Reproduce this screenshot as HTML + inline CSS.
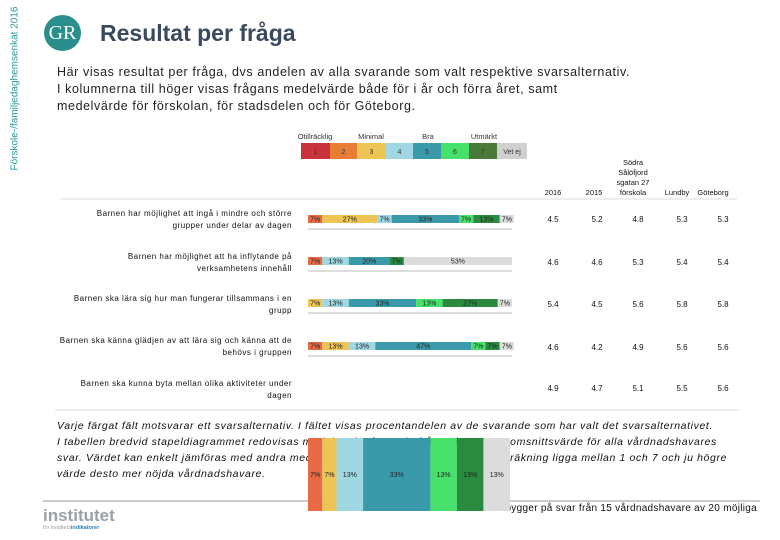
<!DOCTYPE html>
<html><head><meta charset="utf-8"><style>
body{margin:0;width:780px;height:540px;background:#fff;position:relative;overflow:hidden;font-family:"Liberation Sans",sans-serif}
.abs{position:absolute}
.intro{left:57px;top:64px;font-size:12.5px;line-height:17px;color:#222;letter-spacing:0.6px}
.q{position:absolute;right:488px;width:300px;text-align:right;font-size:8px;line-height:12px;color:#111;letter-spacing:0.5px;white-space:nowrap}
.note{left:57px;top:418px;font-size:10.5px;line-height:16px;font-style:italic;color:#111;letter-spacing:0.62px;white-space:nowrap}
#chart{z-index:2}
</style></head><body>
<div class="abs" style="left:-70px;top:80px;width:170px;transform:rotate(-90deg);font-size:10px;color:#2a9a9a;white-space:nowrap">Förskole-/familjedaghemsenkät 2016</div>
<div class="abs" style="left:44px;top:15px;width:37px;height:36px;border-radius:50%;background:#2a8f8c;color:#fff;font-family:'Liberation Serif',serif;font-size:20px;line-height:36px;text-align:center">GR</div>
<div class="abs" style="left:100px;top:20px;font-size:23px;font-weight:bold;color:#3a4a5e">Resultat per fråga</div>
<div class="abs intro">Här visas resultat per fråga, dvs andelen av alla svarande som valt respektive svarsalternativ.<br>I kolumnerna till höger visas frågans medelvärde både för i år och förra året, samt<br>medelvärde för förskolan, för stadsdelen och för Göteborg.</div>

<div class="q" style="top:208px">Barnen har möjlighet att ingå i mindre och större<br>grupper under delar av dagen</div>
<div class="q" style="top:251px">Barnen har möjlighet att ha inflytande på<br>verksamhetens innehåll</div>
<div class="q" style="top:293px">Barnen ska lära sig hur man fungerar tillsammans i en<br>grupp</div>
<div class="q" style="top:335px">Barnen ska känna glädjen av att lära sig och känna att de<br>behövs i gruppen</div>
<div class="q" style="top:378px">Barnen ska kunna byta mellan olika aktiviteter under<br>dagen</div>

<div class="abs note">Varje färgat fält motsvarar ett svarsalternativ. I fältet visas procentandelen av de svarande som har valt det svarsalternativet.<br>I tabellen bredvid stapeldiagrammet redovisas medelvärdet för varje fråga, dvs ett genomsnittsvärde för alla vårdnadshavares<br>svar. Värdet kan enkelt jämföras med andra medelvärden. Medelvärdet kan i denna beräkning ligga mellan 1 och 7 och ju högre<br>värde desto mer nöjda vårdnadshavare.</div>
<div class="abs" style="right:23px;top:503px;font-size:10px;color:#111;letter-spacing:0.3px">och bygger på svar från 15 vårdnadshavare av 20 möjliga</div>
<div class="abs" style="left:43px;top:508px;font-size:17px;font-weight:bold;color:#9aa0a6;line-height:16px">institutet<div style="font-size:5.5px;font-weight:normal;line-height:8px">för kvalitets<span style="color:#2a7fbf;font-weight:bold">indikatorer</span></div></div>

<svg class="abs" style="left:0;top:0" width="780" height="540" id="chart"></svg>

<script>
const cats=["2","3","4","5","6","7","Vet ej"];
const row1=[7,27,7,33,7,13,7];
const row2=[7,0,13,20,0,7,53];
const row3=[0,7,13,33,13,27,7];
const row4=[7,13,13,47,7,7,7];
const row5=[7,7,13,33,13,13,13];
const rows=[row1,row2,row3,row4,row5];
const means2016=[4.5,4.6,5.4,4.6,4.9];
const means2015=[5.2,4.6,4.5,4.2,4.7];
const meansSchool=[4.8,5.3,5.6,4.9,5.1];
const meansLundby=[5.3,5.4,5.8,5.6,5.5];
const meansGbg=[5.3,5.4,5.8,5.6,5.6];
const legendLabels=["1","2","3","4","5","6","7","Vet ej"];
const colors=["#e86a45","#eec455","#9fd8e2","#3a9aaa","#46e06a","#2a8a40","#dcdcdc"];
const legendColors=["#c8333b","#e87d35","#eec455","#9fd8e2","#3a9aaa","#46e06a","#4a7a3a","#d0d0d0"];
const svg=document.getElementById('chart');const NS="http://www.w3.org/2000/svg";
function el(t,a,p){const e=document.createElementNS(NS,t);for(const k in a)e.setAttribute(k,a[k]);(p||svg).appendChild(e);return e;}
const x0=308,x1=512;
function xs(v){return x0+v*(x1-x0)/100;}
const rowY=[215,257,299,342,438];const rowH=[8,8,8,8,73];
let l=el('line',{x1:60,y1:199,x2:737,y2:199,stroke:'#ddd'});
l=el('line',{x1:55,y1:410,x2:740,y2:410,stroke:'#ddd'});
l=el('line',{x1:43,y1:501,x2:760,y2:501,stroke:'#999'});
const lx=[301,330,357,386,413,441,469,497,527];
legendLabels.forEach((s,i)=>{const r=el('rect',{x:lx[i],y:143,width:lx[i+1]-lx[i],height:16,fill:legendColors[i]});


const t=el('text',{x:(lx[i]+lx[i+1])/2,y:154,'font-size':7,'text-anchor':'middle',fill:'#333'});t.textContent=s;

});
[["Otillräcklig",315],["Minimal",371],["Bra",428],["Utmärkt",484]].forEach(a=>{const t=el('text',{x:a[1],y:139,'font-size':7.5,'text-anchor':'middle',fill:'#333'});t.textContent=a[0];

});
rows.forEach((r,ri)=>{if(ri<4){const g=el('rect',{x:x0,y:rowY[ri]+13,width:x1-x0,height:2,fill:'#ddd'});

}
let c=0;r.forEach((v,ci)=>{if(v<=0)return;const b=el('rect',{x:xs(c),y:rowY[ri],width:xs(c+v)-xs(c),height:rowH[ri],fill:colors[ci]});


const t=el('text',{x:(xs(c)+xs(c+v))/2,y:rowY[ri]+rowH[ri]/2+2.5,'font-size':7,'text-anchor':'middle',fill:'#222'});t.textContent=v+'%';

c+=v;});});
const colX=[553,597,638,682,723];const cols=[means2016,means2015,meansSchool,meansLundby,meansGbg];
const valY=[222,265,307,350,391];
cols.forEach((arr,ci)=>arr.forEach((v,ri)=>{const t=el('text',{x:colX[ci],y:valY[ri],'font-size':8,'text-anchor':'middle',fill:'#111'});t.textContent=v.toFixed(1);

}));
const heads=[["2016"],["2015"],["Södra","Sålöfjord","sgatan 27","förskola"],["Lundby"],["Göteborg"]];
const hx=[553,594,633,677,713];
heads.forEach((h,i)=>h.forEach((s,j)=>{const t=el('text',{x:hx[i],y:195-(h.length-1-j)*10,'font-size':7.5,'text-anchor':'middle',fill:'#111'});t.textContent=s;

}));
</script>
</body></html>
